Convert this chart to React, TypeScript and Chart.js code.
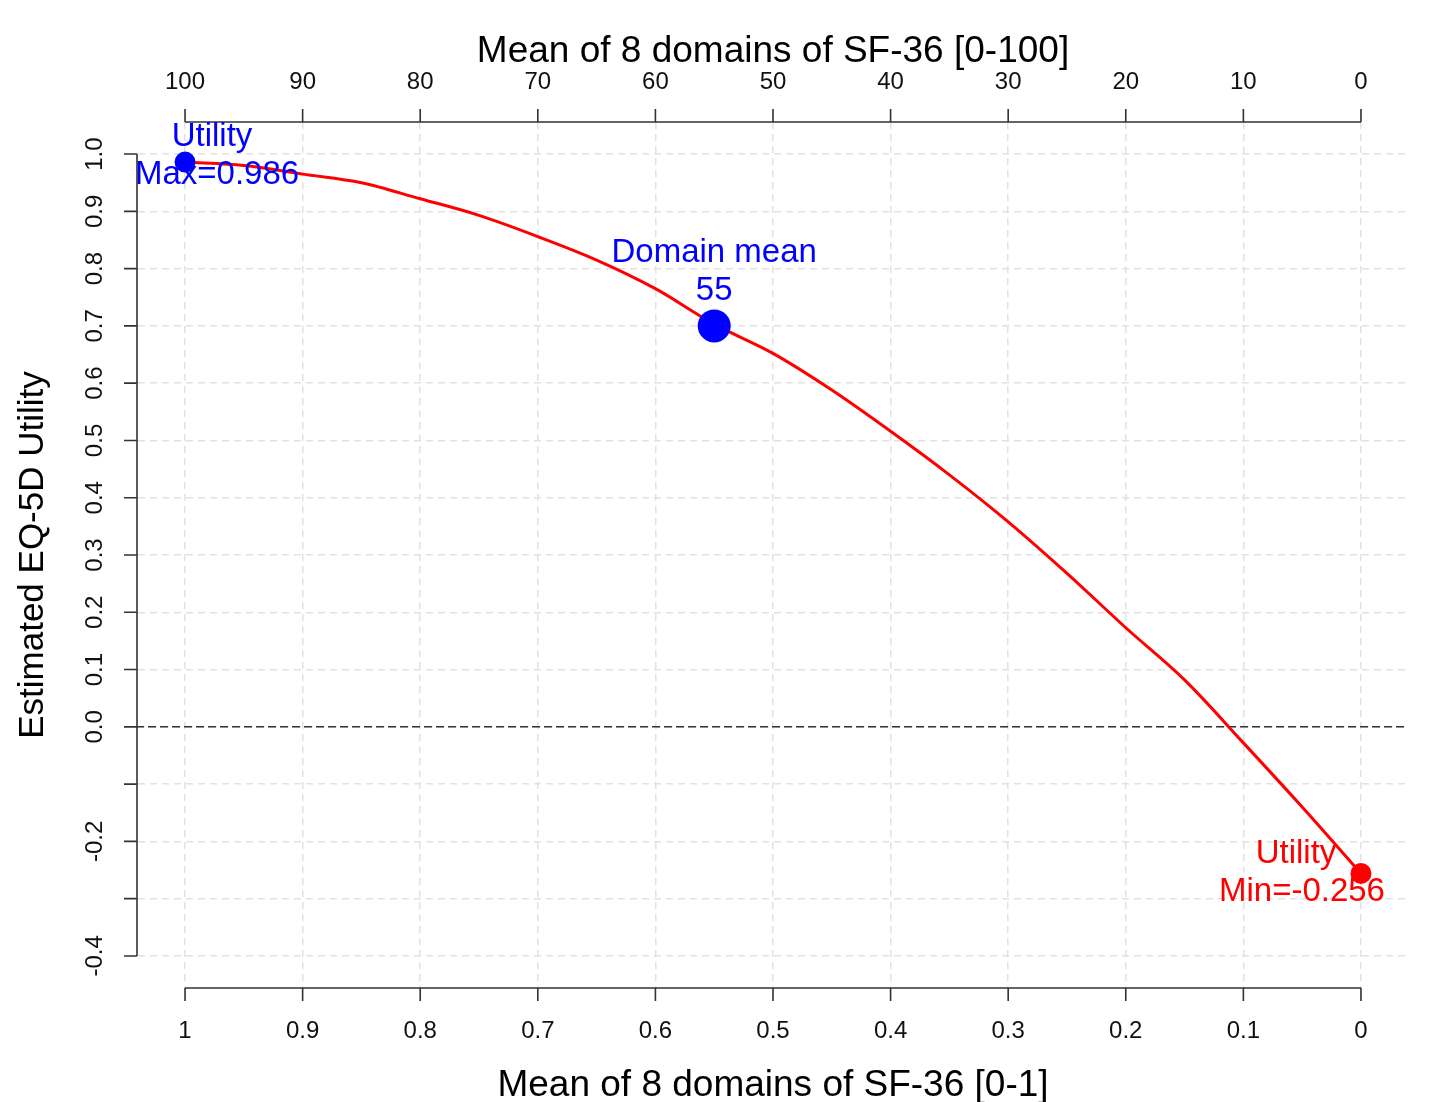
import React, { useEffect, useRef } from "react";
import { Chart, registerables } from "chart.js";

Chart.register(...registerables);

// ---- Data ----
const sfMean01 = [1, 0.95, 0.9, 0.85, 0.8, 0.75, 0.7, 0.65, 0.6, 0.55, 0.5, 0.45, 0.4, 0.35, 0.3, 0.25, 0.2, 0.15, 0.1, 0.05, 0];
const utility = [0.986, 0.98, 0.965, 0.95, 0.922, 0.893, 0.856, 0.815, 0.765, 0.703, 0.652, 0.588, 0.516, 0.44, 0.358, 0.268, 0.173, 0.082, -0.028, -0.14, -0.256];

const maxX = [1];
const maxY = [0.986];
const meanX = [0.55];
const meanY = [0.7];
const minX = [0];
const minY = [-0.256];

const bottomTicks = [1, 0.9, 0.8, 0.7, 0.6, 0.5, 0.4, 0.3, 0.2, 0.1, 0];
const bottomTickLabels = ["1", "0.9", "0.8", "0.7", "0.6", "0.5", "0.4", "0.3", "0.2", "0.1", "0"];
const topTicks = [100, 90, 80, 70, 60, 50, 40, 30, 20, 10, 0];
const topTickLabels = ["100", "90", "80", "70", "60", "50", "40", "30", "20", "10", "0"];
const yTicks = [-0.4, -0.3, -0.2, -0.1, 0, 0.1, 0.2, 0.3, 0.4, 0.5, 0.6, 0.7, 0.8, 0.9, 1.0];
const yTickLabels = ["-0.4", "", "-0.2", "", "0.0", "0.1", "0.2", "0.3", "0.4", "0.5", "0.6", "0.7", "0.8", "0.9", "1.0"];

const topTitle = "Mean of 8 domains of SF-36 [0-100]";
const bottomTitle = "Mean of 8 domains of SF-36 [0-1]";
const yTitle = "Estimated EQ-5D Utility";
const maxLabel = ["Utility", "Max=0.986"];
const meanLabel = ["Domain mean", "55"];
const minLabel = ["Utility", "Min=-0.256"];

const FONT = "'Liberation Sans', Arial, Helvetica, sans-serif";
const AXIS_COLOR = "#333333";
const TEXT_COLOR = "#111111";

const axesPlugin = {
  id: "rStyleAxes",
  beforeDatasetsDraw(chart: any) {
    const { ctx, chartArea: ca } = chart;
    const ys = chart.scales.y;
    const y0 = ys.getPixelForValue(0);
    ctx.save();
    ctx.strokeStyle = "#333333";
    ctx.lineWidth = 1.5;
    ctx.setLineDash([8, 4]);
    ctx.beginPath();
    ctx.moveTo(ca.left - 2, y0);
    ctx.lineTo(ca.right - 2, y0);
    ctx.stroke();
    ctx.restore();
  },
  afterDatasetsDraw(chart: any) {
    const { ctx, chartArea: ca } = chart;
    const xs = chart.scales.x;
    const xt = chart.scales.xTop;
    const ys = chart.scales.y;
    const tick = 13;
    ctx.save();
    ctx.strokeStyle = AXIS_COLOR;
    ctx.lineWidth = 1.6;
    ctx.setLineDash([]);

    // bottom axis
    const yb = ca.bottom;
    ctx.beginPath();
    ctx.moveTo(xs.getPixelForValue(bottomTicks[0]), yb);
    ctx.lineTo(xs.getPixelForValue(bottomTicks[bottomTicks.length - 1]), yb);
    bottomTicks.forEach((v) => {
      const px = xs.getPixelForValue(v);
      ctx.moveTo(px, yb);
      ctx.lineTo(px, yb + tick);
    });
    ctx.stroke();

    // top axis
    const yt = ca.top;
    ctx.beginPath();
    ctx.moveTo(xt.getPixelForValue(topTicks[0]), yt);
    ctx.lineTo(xt.getPixelForValue(topTicks[topTicks.length - 1]), yt);
    topTicks.forEach((v) => {
      const px = xt.getPixelForValue(v);
      ctx.moveTo(px, yt);
      ctx.lineTo(px, yt - tick);
    });
    ctx.stroke();

    // left axis
    const xl = ca.left - 1;
    ctx.beginPath();
    ctx.moveTo(xl, ys.getPixelForValue(yTicks[0]));
    ctx.lineTo(xl, ys.getPixelForValue(yTicks[yTicks.length - 1]));
    yTicks.forEach((v) => {
      const py = ys.getPixelForValue(v);
      ctx.moveTo(xl, py);
      ctx.lineTo(xl - tick, py);
    });
    ctx.stroke();

    // tick labels
    ctx.fillStyle = TEXT_COLOR;
    ctx.font = `24px ${FONT}`;
    ctx.textAlign = "center";
    ctx.textBaseline = "alphabetic";
    bottomTicks.forEach((v, i) => {
      ctx.fillText(bottomTickLabels[i], xs.getPixelForValue(v), yb + 50);
    });
    topTicks.forEach((v, i) => {
      ctx.fillText(topTickLabels[i], xt.getPixelForValue(v), yt - 33);
    });
    yTicks.forEach((v, i) => {
      const lab = yTickLabels[i];
      if (!lab) return;
      ctx.save();
      ctx.translate(ca.left - 36, ys.getPixelForValue(v));
      ctx.rotate(-Math.PI / 2);
      ctx.fillText(lab, 0, 0);
      ctx.restore();
    });

    // axis titles
    ctx.fillStyle = "#000000";
    ctx.font = `37px ${FONT}`;
    const cx = (xs.getPixelForValue(xs.min) + xs.getPixelForValue(xs.max)) / 2;
    ctx.fillText(topTitle, cx, yt - 60);
    ctx.fillText(bottomTitle, cx, yb + 108);
    ctx.font = `35px ${FONT}`;
    ctx.save();
    const cy = (ys.getPixelForValue(ys.min) + ys.getPixelForValue(ys.max)) / 2;
    ctx.translate(43, cy);
    ctx.rotate(-Math.PI / 2);
    ctx.fillText(yTitle, 0, 0);
    ctx.restore();

    // annotations
    ctx.font = `33px ${FONT}`;
    const pMaxX = xs.getPixelForValue(maxX[0]);
    const pMaxY = ys.getPixelForValue(maxY[0]);
    ctx.fillStyle = "#0000ff";
    ctx.fillText(maxLabel[0], pMaxX + 27, pMaxY - 16.5);
    ctx.fillText(maxLabel[1], pMaxX + 32, pMaxY + 21.5);

    const pMeanX = xs.getPixelForValue(meanX[0]);
    const pMeanY = ys.getPixelForValue(meanY[0]);
    ctx.fillText(meanLabel[0], pMeanX, pMeanY - 64);
    ctx.fillText(meanLabel[1], pMeanX, pMeanY - 25.5);

    const pMinX = xs.getPixelForValue(minX[0]);
    const pMinY = ys.getPixelForValue(minY[0]);
    ctx.fillStyle = "#ff0000";
    ctx.fillText(minLabel[0], pMinX - 65, pMinY - 10);
    ctx.fillText(minLabel[1], pMinX - 59, pMinY + 28);

    ctx.restore();
  },
};

export default function App() {
  const canvasRef = useRef<HTMLCanvasElement | null>(null);

  useEffect(() => {
    const canvas = canvasRef.current;
    if (!canvas) return;
    const toPts = (xa: number[], ya: number[]) => xa.map((x, i) => ({ x, y: ya[i] }));
    const gridOpts = {
      color: "#e2e2e2",
      lineWidth: 1.5,
      drawTicks: false,
      drawOnChartArea: true,
    };
    const chart = new Chart(canvas, {
      type: "scatter",
      data: {
        datasets: [
          {
            label: "max",
            data: toPts(maxX, maxY),
            pointRadius: 10.5,
            pointBackgroundColor: "#0000ff",
            pointBorderWidth: 0,
            showLine: false,
            order: 0,
          },
          {
            label: "mean",
            data: toPts(meanX, meanY),
            pointRadius: 16.5,
            pointBackgroundColor: "#0000ff",
            pointBorderWidth: 0,
            showLine: false,
            order: 0,
          },
          {
            label: "min",
            data: toPts(minX, minY),
            pointRadius: 10.5,
            pointBackgroundColor: "#ff0000",
            pointBorderWidth: 0,
            showLine: false,
            order: 0,
          },
          {
            label: "utility",
            data: toPts(sfMean01, utility),
            showLine: true,
            borderColor: "#ff0000",
            borderWidth: 3,
            pointRadius: 0,
            tension: 0.3,
            cubicInterpolationMode: "monotone",
            order: 5,
          } as any,
        ],
      },
      options: {
        responsive: false,
        animation: false,
        devicePixelRatio: 1,
        layout: { padding: { left: 138, right: 40, top: 122, bottom: 114 } },
        plugins: {
          legend: { display: false },
          tooltip: { enabled: false },
          title: { display: false },
        },
        scales: {
          x: {
            type: "linear",
            position: "bottom",
            min: -0.04,
            max: 1.04,
            reverse: true,
            ticks: { display: false },
            grid: gridOpts,
            border: { display: false, dash: [7, 5] },
            afterBuildTicks: (scale: any) => {
              scale.ticks = bottomTicks.map((v) => ({ value: v }));
            },
          },
          xTop: {
            type: "linear",
            position: "top",
            display: false,
            min: -4,
            max: 104,
            reverse: true,
          },
          y: {
            type: "linear",
            position: "left",
            min: -0.456,
            max: 1.056,
            ticks: { display: false },
            grid: gridOpts,
            border: { display: false, dash: [7, 5] },
            afterBuildTicks: (scale: any) => {
              scale.ticks = yTicks.map((v) => ({ value: v }));
            },
          },
        },
      } as any,
      plugins: [axesPlugin],
    });
    return () => chart.destroy();
  }, []);

  return (
    <div style={{ position: "absolute", left: 0, top: 0, width: 1448, height: 1102, background: "#ffffff" }}>
      <canvas ref={canvasRef} width={1448} height={1102} style={{ display: "block" }} />
    </div>
  );
}
